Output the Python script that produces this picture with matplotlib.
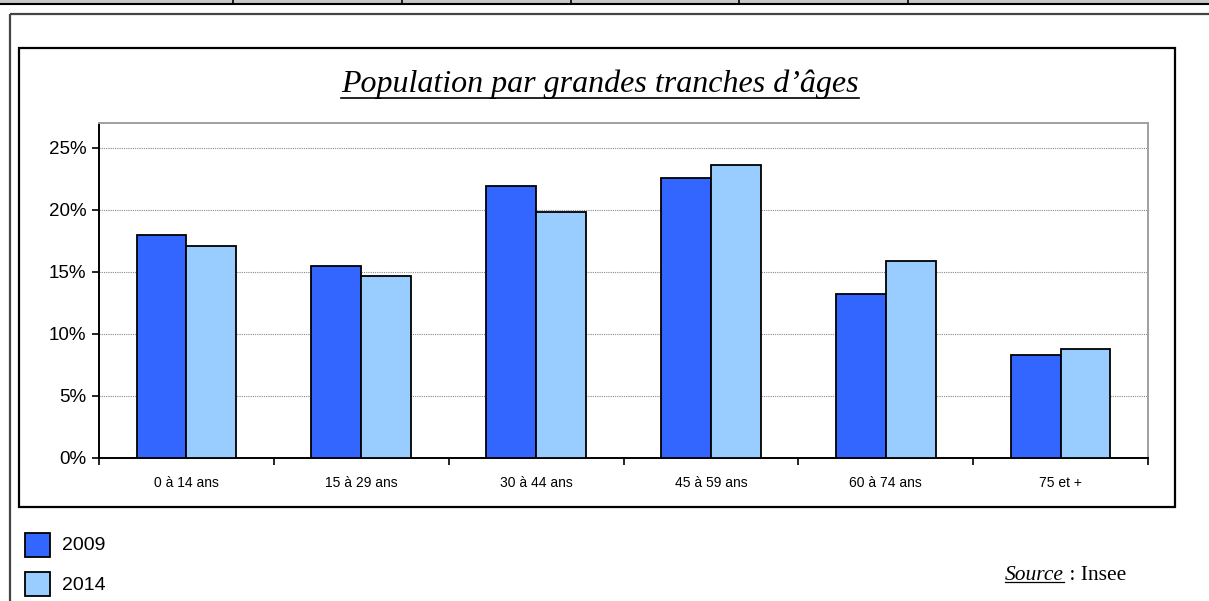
import matplotlib
matplotlib.use("Agg")
import matplotlib.pyplot as plt
import numpy as np
from matplotlib.patches import Rectangle
from matplotlib.ticker import FixedLocator, PercentFormatter

# data
categories = ["0 à 14 ans", "15 à 29 ans", "30 à 44 ans", "45 à 59 ans", "60 à 74 ans", "75 et +"]
pop_2009 = [18.0, 15.5, 21.9, 22.6, 13.2, 8.3]
pop_2014 = [17.1, 14.7, 19.8, 23.6, 15.9, 8.8]
series_names = ["2009", "2014"]
y_ticks = [0, 5, 10, 15, 20, 25]

COL_2009 = "#3366FF"
COL_2014 = "#99CCFF"
SANS = "Liberation Sans"
SERIF = "Liberation Serif"

W, H = 1209, 601
fig = plt.figure(figsize=(W / 100, H / 100), dpi=100)

# background "page" axes in pixel coords
bg = fig.add_axes([0, 0, 1, 1], zorder=0)
bg.set_xlim(0, W)
bg.set_ylim(H, 0)
bg.axis("off")

# table row remnant at the very top
bg.add_patch(Rectangle((0, 0), W, 3.5, facecolor="#c8c8c8", edgecolor="none"))
bg.plot([0, W], [3.5, 3.5], color="black", lw=1.5)
for xd in [233, 402, 571, 739, 908]:
    bg.plot([xd, xd], [0, 4], color="black", lw=1.2)

# outer frame (top and left visible)
bg.plot([10, W], [14, 14], color="#444444", lw=1.6, solid_capstyle="butt")
bg.plot([10, 10], [14, H], color="#444444", lw=1.6, solid_capstyle="butt")

# chart box
bg.add_patch(Rectangle((19, 48), 1175 - 19, 507 - 48, facecolor="white",
                       edgecolor="black", lw=1.6))

# plot area
ax = fig.add_axes([99 / W, (H - 458) / H, (1148 - 99) / W, (458 - 123) / H], zorder=2)
x = np.arange(len(categories)) + 0.5
bw = 0.2855
ax.bar(x - bw / 2, pop_2009, bw, color=COL_2009, edgecolor="black", lw=1.3,
       label=series_names[0], zorder=3)
ax.bar(x + bw / 2, pop_2014, bw, color=COL_2014, edgecolor="black", lw=1.3,
       label=series_names[1], zorder=3)

ax.set_xlim(0, len(categories))
ax.set_ylim(0, 27)
ax.yaxis.set_major_locator(FixedLocator(y_ticks))
ax.yaxis.set_major_formatter(PercentFormatter(decimals=0))
ax.xaxis.set_major_locator(FixedLocator(np.arange(len(categories) + 1)))
ax.xaxis.set_major_formatter(plt.NullFormatter())
ax.set_xticks(x, categories, minor=True)
ax.tick_params(axis="x", which="minor", length=0, pad=13, labelsize=10)
ax.tick_params(axis="x", which="major", length=5, width=1.2, direction="out")
ax.tick_params(axis="y", length=5, width=1.2, direction="out", pad=4, labelsize=13.5)
for lbl in ax.get_xticklabels(minor=True) + ax.get_yticklabels():
    lbl.set_family(SANS)

ax.grid(axis="y", color="#888888", ls=(0, (1, 1)), lw=0.8, zorder=1)
for side in ["top", "right"]:
    ax.spines[side].set_color("#a0a0a0")
    ax.spines[side].set_linewidth(1.4)
for side in ["left", "bottom"]:
    ax.spines[side].set_color("black")
    ax.spines[side].set_linewidth(1.4)

# title with underline
title = bg.text(600, 84, "Population par grandes tranches d\u2019âges", family=SERIF,
                style="italic", fontsize=23, ha="center", va="center")

# legend
for i, (name, col) in enumerate(zip(series_names, [COL_2009, COL_2014])):
    y0 = 533 + i * 39
    bg.add_patch(Rectangle((25, y0), 25, 24, facecolor=col, edgecolor="black", lw=1.3))
    bg.text(62, y0 + 13, name, family=SANS, fontsize=14, va="center", ha="left")

# source
src = bg.text(1005, 575, "Source", family=SERIF, style="italic", fontsize=15.5,
              va="center", ha="left")

fig.canvas.draw()
r = fig.canvas.get_renderer()
inv = bg.transData.inverted()

bb = title.get_window_extent(r)
(x0, y0), (x1, y1) = inv.transform([[bb.x0, bb.y0], [bb.x1, bb.y1]])
bg.plot([x0, x1], [y0 - 1, y0 - 1], color="black", lw=1.2)

bb = src.get_window_extent(r)
(x0, y0), (x1, y1) = inv.transform([[bb.x0, bb.y0], [bb.x1, bb.y1]])
bg.plot([x0, x1], [y0 - 2.5, y0 - 2.5], color="black", lw=0.9)
bg.text(x1, 575, " : Insee", family=SERIF, fontsize=15.5, va="center", ha="left")

fig.savefig("out.png", dpi=100)
